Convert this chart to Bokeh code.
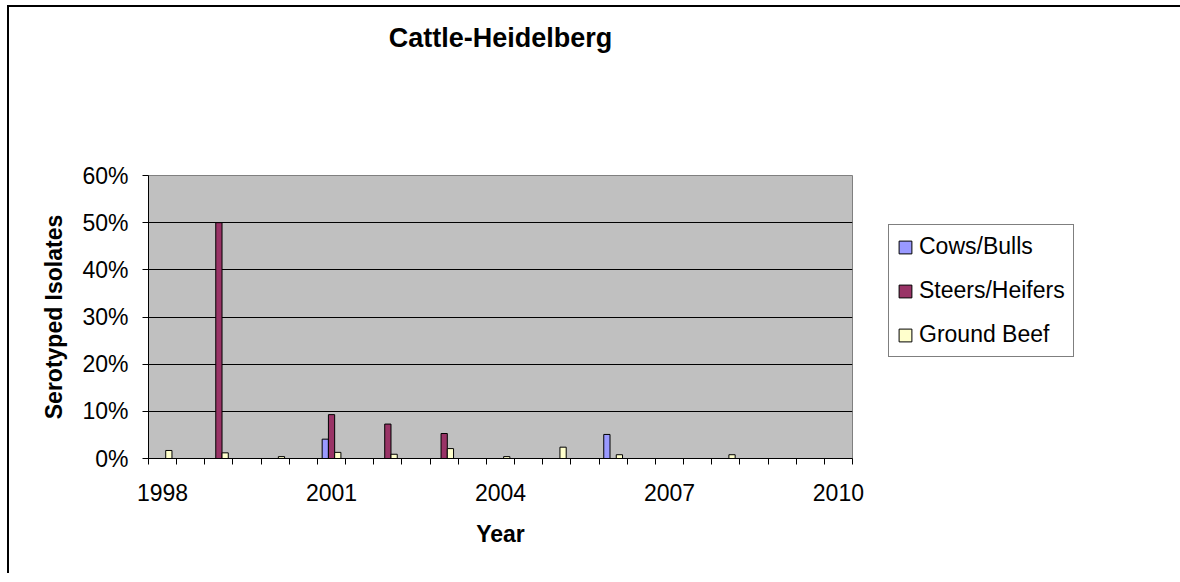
import numpy as np
from bokeh.plotting import figure
from bokeh.layouts import row
from bokeh.models import (ColumnDataSource, Range1d, FixedTicker, NumeralTickFormatter,
                          Legend, LegendItem, Title)
from bokeh.transform import dodge
from bokeh.embed import file_html
from bokeh.resources import INLINE

# ---- data ----
years = [1998, 1999, 2000, 2001, 2002, 2003, 2004, 2005, 2006, 2007, 2008, 2009, 2010]
cows_bulls = [0, 0, 0, 0.041, 0, 0, 0, 0, 0.051, 0, 0, 0, 0]
steers_heifers = [0, 0.50, 0, 0.093, 0.073, 0.053, 0, 0, 0, 0, 0, 0, 0]
ground_beef = [0.017, 0.012, 0.004, 0.013, 0.009, 0.021, 0.004, 0.024, 0.008, 0, 0.008, 0, 0]
series_names = ["Cows/Bulls", "Steers/Heifers", "Ground Beef"]
series_fields = ["cows", "steers", "ground"]
series_colors = ["#9999FF", "#993366", "#FFFFCC"]
x_tick_values = [1998, 2001, 2004, 2007, 2010]
x_tick_labels = ["1998", "2001", "2004", "2007", "2010"]
y_ticks = [0, 0.1, 0.2, 0.3, 0.4, 0.5, 0.6]
title_text = "Cattle-Heidelberg"

def nz(v):
    return [x if x != 0 else np.nan for x in v]

src = ColumnDataSource(dict(year=years, cows=nz(cows_bulls), steers=nz(steers_heifers),
                            ground=nz(ground_beef)))

FONT = "Liberation Sans"
H = 566

p = figure(width=863, height=H, output_backend="svg", toolbar_location=None,
           x_range=Range1d(1997.75, 2010.25), y_range=Range1d(0, 0.6),
           min_border_left=139, min_border_right=20, min_border_top=168, min_border_bottom=115,
           background_fill_color="#C0C0C0", border_fill_color="white")
p.title_location = None
p.outline_line_color = "#808080"
p.outline_line_width = 1

# title: a thin spacer next to the frame, then the real title above it
p.add_layout(Title(text=" ", text_font_size="1px", standoff=120), "above")
p.add_layout(Title(text=title_text, align="center", text_font=FONT, text_font_size="27px",
                   text_font_style="bold", text_color="black", standoff=0), "above")

bw = 0.111
for i, (field, color) in enumerate(zip(series_fields, series_colors)):
    p.vbar(x=dodge("year", (i - 1) * bw, range=p.x_range), top=field, width=bw,
           source=src, fill_color=color, line_color="black", line_width=1)

# x axis
xminor = [1997.75 + 0.5 * k for k in range(26)]
p.xaxis.ticker = FixedTicker(ticks=x_tick_values, minor_ticks=xminor)
p.xaxis.major_label_overrides = {v: l for v, l in zip(x_tick_values, x_tick_labels)}
p.xaxis.major_tick_out = 0
p.xaxis.major_tick_in = 0
p.xaxis.minor_tick_out = 6
p.xaxis.minor_tick_in = 0
p.xaxis.minor_tick_line_color = "black"
p.xaxis.axis_line_color = "black"
p.xaxis.major_label_standoff = 19
p.xaxis.axis_label = "Year"
p.xaxis.axis_label_standoff = 17

# y axis
p.yaxis.ticker = FixedTicker(ticks=y_ticks, minor_ticks=[])
p.yaxis.formatter = NumeralTickFormatter(format="0%")
p.yaxis.major_tick_out = 6
p.yaxis.major_tick_in = 0
p.yaxis.major_tick_line_color = "black"
p.yaxis.axis_line_color = "black"
p.yaxis.major_label_standoff = 14
p.yaxis.axis_label = "Serotyped Isolates"
p.yaxis.axis_label_standoff = 12

for ax in [p.xaxis, p.yaxis]:
    ax.major_label_text_font = FONT
    ax.major_label_text_font_size = "23px"
    ax.major_label_text_color = "black"
    ax.axis_label_text_font = FONT
    ax.axis_label_text_font_size = "23px"
    ax.axis_label_text_font_style = "bold"
    ax.axis_label_text_color = "black"

p.xgrid.grid_line_color = None
p.ygrid.grid_line_color = "black"
p.ygrid.grid_line_width = 1

# ---- legend panel (separate white figure to the right of the plot) ----
q = figure(width=308, height=H, output_backend="svg", toolbar_location=None,
           x_axis_type=None, y_axis_type=None, x_range=Range1d(0, 1), y_range=Range1d(-1, 0),
           min_border=0, background_fill_color="white", border_fill_color="white")
q.title_location = None
q.outline_line_color = None
q.grid.grid_line_color = None
legend_renderers = []
for field, color in zip(series_fields, series_colors):
    r = q.vbar(x="year", top=field, width=bw, source=src, fill_color=color,
               line_color="black", line_width=1, visible=False)
    legend_renderers.append(r)

legend = Legend(items=[LegendItem(label=n, renderers=[r]) for n, r in zip(series_names, legend_renderers)],
                location=(16, 101), orientation="vertical")
legend.label_text_font = FONT
legend.label_text_font_size = "23px"
legend.label_text_color = "black"
legend.glyph_width = 16
legend.glyph_height = 16
legend.label_height = 27
legend.label_standoff = 6
legend.spacing = 17
legend.padding = 8
legend.margin = 0
legend.border_line_color = "black"
legend.border_line_width = 1
legend.background_fill_color = "white"
legend.background_fill_alpha = 1
q.add_layout(legend, "center")

layout = row(p, q, styles={"border-left": "2px solid black", "border-top": "2px solid black",
                           "border-right": "none", "border-bottom": "none",
                           "margin-left": "7px", "margin-top": "5px"})

open("out.html", "w").write(file_html(layout, INLINE))
